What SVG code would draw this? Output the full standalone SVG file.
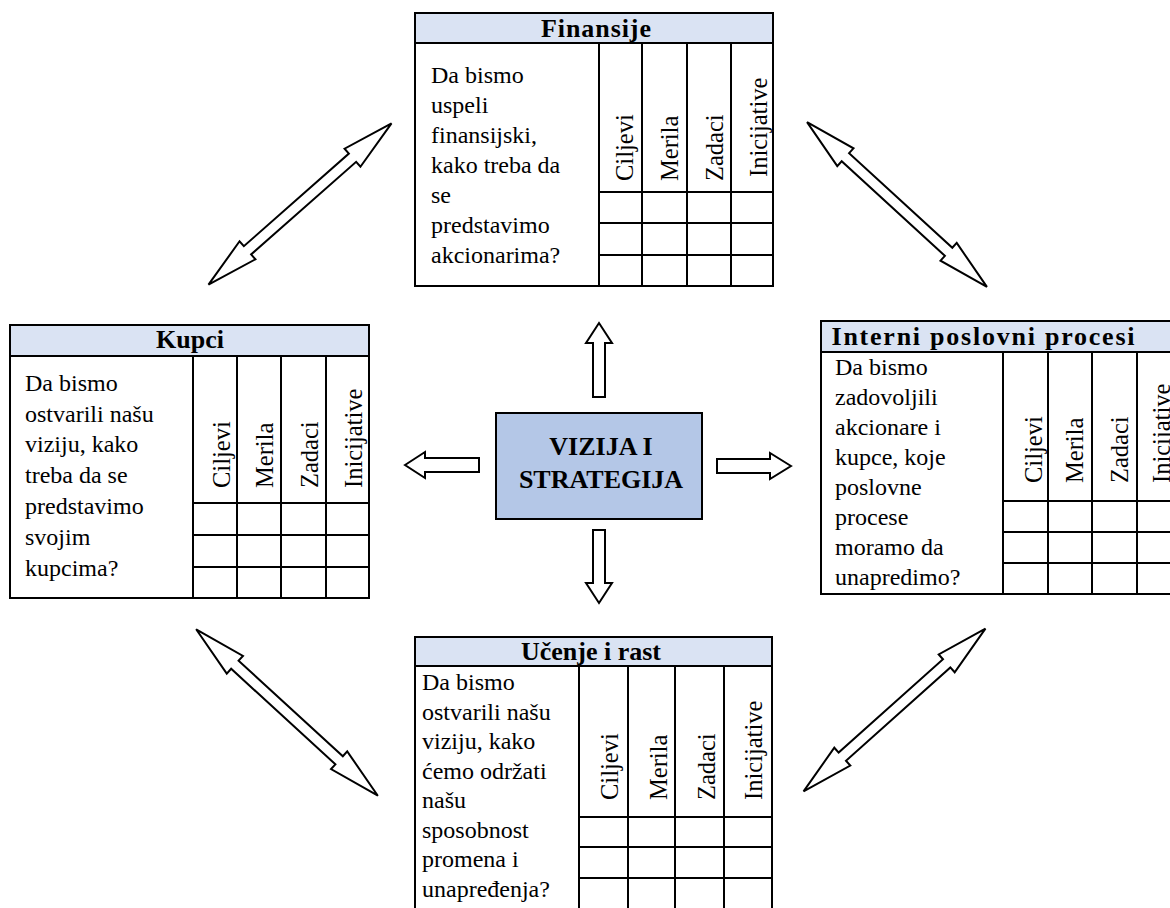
<svg xmlns="http://www.w3.org/2000/svg" width="1170" height="908" viewBox="0 0 1170 908">
  <style>
    .box { fill: #ffffff; stroke: #000000; stroke-width: 2; }
    .head { fill: #DAE3F3; stroke: #000000; stroke-width: 2; }
    .grid { stroke: #000000; stroke-width: 2; fill: none; }
    .title { font-family: "Liberation Serif", "Times New Roman", serif; font-weight: bold; font-size: 26px; fill: #000000; text-anchor: middle; }
    .body { font-family: "Liberation Serif", "Times New Roman", serif; font-size: 24px; fill: #000000; }
    .col { font-family: "Liberation Serif", "Times New Roman", serif; font-size: 24.5px; fill: #000000; }
    .center { fill: #B4C7E7; stroke: #000000; stroke-width: 2; }
    .ctext { font-family: "Liberation Serif", "Times New Roman", serif; font-weight: bold; font-size: 26px; fill: #000000; text-anchor: middle; }
    .arrow { fill: #ffffff; stroke: #000000; stroke-width: 2; stroke-linejoin: miter; }
  </style>
  <defs>
    <!-- hollow double-headed block arrow, centred on the origin along the x axis -->
    <path id="dbl" d="M-122,0 L-70,-12 L-70,-5.5 L70,-5.5 L70,-12 L122,0 L70,12 L70,5.5 L-70,5.5 L-70,12 Z"/>
  </defs>
  <rect width="1170" height="908" fill="#ffffff"/>

  <!-- Finansije -->
  <g id="node-finansije">
    <rect class="box" x="415" y="13" width="358" height="273"/>
    <rect class="head" x="415" y="13" width="358" height="30"/>
    <text class="title" x="596" y="37" textLength="110">Finansije</text>
    <path class="grid" d="M599,43 V286 M642,43 V286 M687,43 V286 M731,43 V286 M599,192 H773 M599,223 H773 M599,255 H773"/>
    <text class="body">
      <tspan x="431" y="83">Da bismo</tspan>
      <tspan x="431" y="113">uspeli</tspan>
      <tspan x="431" y="143">finansijski,</tspan>
      <tspan x="431" y="173">kako treba da</tspan>
      <tspan x="431" y="203">se</tspan>
      <tspan x="431" y="233">predstavimo</tspan>
      <tspan x="431" y="263">akcionarima?</tspan>
    </text>
    <text class="col" transform="translate(633,181) rotate(-90)">Ciljevi</text>
    <text class="col" transform="translate(678,181) rotate(-90)">Merila</text>
    <text class="col" transform="translate(723,181) rotate(-90)">Zadaci</text>
    <text class="col" transform="translate(767,177) rotate(-90)">Inicijative</text>
  </g>

  <!-- Kupci -->
  <g id="node-kupci">
    <rect class="box" x="10" y="325" width="359" height="273"/>
    <rect class="head" x="10" y="325" width="359" height="31"/>
    <text class="title" x="190" y="348">Kupci</text>
    <path class="grid" d="M193,356 V598 M237,356 V598 M281,356 V598 M326,356 V598 M193,503 H369 M193,535 H369 M193,567 H369"/>
    <text class="body">
      <tspan x="25" y="391">Da bismo</tspan>
      <tspan x="25" y="422">ostvarili našu</tspan>
      <tspan x="25" y="452">viziju, kako</tspan>
      <tspan x="25" y="483">treba da se</tspan>
      <tspan x="25" y="514">predstavimo</tspan>
      <tspan x="25" y="545">svojim</tspan>
      <tspan x="25" y="576">kupcima?</tspan>
    </text>
    <text class="col" transform="translate(230,488) rotate(-90)">Ciljevi</text>
    <text class="col" transform="translate(273,488) rotate(-90)">Merila</text>
    <text class="col" transform="translate(318,488) rotate(-90)">Zadaci</text>
    <text class="col" transform="translate(362,488) rotate(-90)">Inicijative</text>
  </g>

  <!-- Interni poslovni procesi -->
  <g id="node-interni">
    <rect class="box" x="821" y="321" width="360" height="273"/>
    <rect class="head" x="821" y="321" width="360" height="31"/>
    <text class="title" x="983" y="345" textLength="303">Interni poslovni procesi</text>
    <path class="grid" d="M1003,352 V594 M1048,352 V594 M1092,352 V594 M1137,352 V594 M1003,501 H1181 M1003,532 H1181 M1003,563 H1181"/>
    <text class="body">
      <tspan x="835" y="375">Da bismo</tspan>
      <tspan x="835" y="405">zadovoljili</tspan>
      <tspan x="835" y="435">akcionare i</tspan>
      <tspan x="835" y="465">kupce, koje</tspan>
      <tspan x="835" y="495">poslovne</tspan>
      <tspan x="835" y="525">procese</tspan>
      <tspan x="835" y="555">moramo da</tspan>
      <tspan x="835" y="585">unapredimo?</tspan>
    </text>
    <text class="col" transform="translate(1042,483) rotate(-90)">Ciljevi</text>
    <text class="col" transform="translate(1083,483) rotate(-90)">Merila</text>
    <text class="col" transform="translate(1128,483) rotate(-90)">Zadaci</text>
    <text class="col" transform="translate(1170,483) rotate(-90)">Inicijative</text>
  </g>

  <!-- Učenje i rast -->
  <g id="node-ucenje">
    <rect class="box" x="415" y="637" width="357" height="275"/>
    <rect class="head" x="415" y="637" width="357" height="29"/>
    <text class="title" x="591" y="660">Učenje i rast</text>
    <path class="grid" d="M579,666 V912 M628,666 V912 M675,666 V912 M724,666 V912 M579,817 H772 M579,847 H772 M579,878 H772"/>
    <text class="body">
      <tspan x="422" y="690">Da bismo</tspan>
      <tspan x="422" y="720">ostvarili našu</tspan>
      <tspan x="422" y="749">viziju, kako</tspan>
      <tspan x="422" y="779">ćemo održati</tspan>
      <tspan x="422" y="808">našu</tspan>
      <tspan x="422" y="838">sposobnost</tspan>
      <tspan x="422" y="867">promena i</tspan>
      <tspan x="422" y="897">unapređenja?</tspan>
    </text>
    <text class="col" transform="translate(618,800) rotate(-90)">Ciljevi</text>
    <text class="col" transform="translate(667,800) rotate(-90)">Merila</text>
    <text class="col" transform="translate(715,800) rotate(-90)">Zadaci</text>
    <text class="col" transform="translate(762,800) rotate(-90)">Inicijative</text>
  </g>

  <!-- Vizija i strategija -->
  <g id="node-vizija">
    <rect class="center" x="496" y="413" width="206" height="106"/>
    <text class="ctext" x="601" y="455">VIZIJA I</text>
    <text class="ctext" x="601" y="488">STRATEGIJA</text>
  </g>

  <g id="connectors">
    <!-- single arrows out of the centre -->
    <path class="arrow" d="M599,323 L612,343 L605,343 L605,397 L593,397 L593,343 L586,343 Z"/>
    <path class="arrow" d="M599,603 L612,583 L605,583 L605,530 L593,530 L593,583 L586,583 Z"/>
    <path class="arrow" d="M405,465 L425,452 L425,458 L479,458 L479,472 L425,472 L425,478 Z"/>
    <path class="arrow" d="M791,466 L770,453 L770,459 L717,459 L717,473 L770,473 L770,479 Z"/>
    <!-- double arrows between neighbouring perspectives -->
    <use class="arrow" href="#dbl" transform="translate(300,204) rotate(-41.4)"/>
    <use class="arrow" href="#dbl" transform="translate(897,204.5) rotate(42.5)"/>
    <use class="arrow" href="#dbl" transform="translate(287,712.5) rotate(42.5) scale(1.01,1)"/>
    <use class="arrow" href="#dbl" transform="translate(894.5,710) rotate(-41.8)"/>
  </g>
</svg>
